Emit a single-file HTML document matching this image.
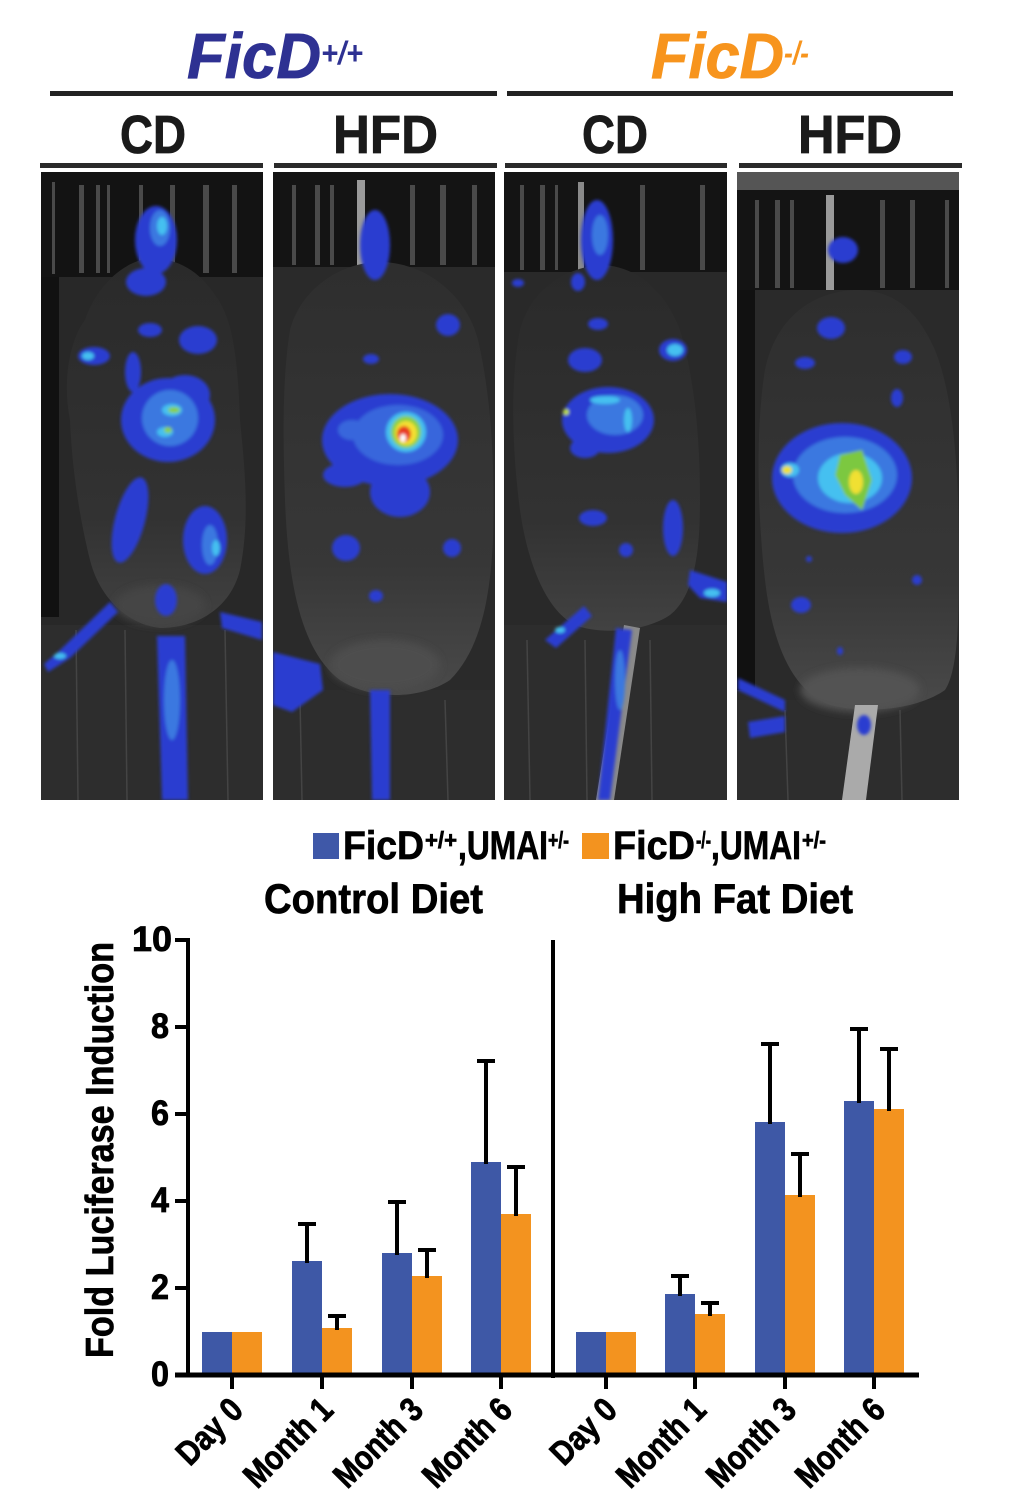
<!DOCTYPE html>
<html><head><meta charset="utf-8"><style>
html,body{margin:0;padding:0;background:#fff;}
svg{display:block;font-family:"Liberation Sans",Arial,Helvetica,sans-serif;}
text{font-family:"Liberation Sans",Arial,Helvetica,sans-serif;font-weight:bold;}
</style></head><body>
<svg width="1024" height="1509" viewBox="0 0 1024 1509" xmlns="http://www.w3.org/2000/svg" font-family="Liberation Sans, Arial, Helvetica, sans-serif" font-weight="bold">
<defs>
<filter id="bl" x="-20%" y="-20%" width="140%" height="140%"><feGaussianBlur stdDeviation="1.6"/></filter>
<filter id="bl2" x="-20%" y="-20%" width="140%" height="140%"><feGaussianBlur stdDeviation="4"/></filter>
<clipPath id="c1"><rect x="41" y="172" width="222" height="628"/></clipPath>
<clipPath id="c2"><rect x="273" y="172" width="222" height="628"/></clipPath>
<clipPath id="c3"><rect x="504" y="172" width="223" height="628"/></clipPath>
<clipPath id="c4"><rect x="737" y="172" width="222" height="628"/></clipPath>
<linearGradient id="bodyg" x1="0" y1="0" x2="0" y2="1">
<stop offset="0" stop-color="#2a2a2a"/><stop offset="0.7" stop-color="#323232"/><stop offset="1" stop-color="#424242"/></linearGradient>
<linearGradient id="bodyg2" x1="0" y1="0" x2="0" y2="1">
<stop offset="0" stop-color="#2e2e2e"/><stop offset="0.7" stop-color="#373737"/><stop offset="1" stop-color="#4a4a4a"/></linearGradient>
</defs>
<rect width="1024" height="1509" fill="#fff"/>

<!-- Top titles -->
<text x="187" y="78" font-size="64" font-style="italic" fill="#2e3192" stroke="#2e3192" stroke-width="0.8" textLength="134" lengthAdjust="spacingAndGlyphs">FicD</text>
<text x="321" y="64" font-size="32" font-style="italic" fill="#2e3192" textLength="42" lengthAdjust="spacingAndGlyphs">+/+</text>
<text x="651" y="78" font-size="64" font-style="italic" fill="#f7941d" stroke="#f7941d" stroke-width="0.8" textLength="133" lengthAdjust="spacingAndGlyphs">FicD</text>
<text x="784" y="64" font-size="32" font-style="italic" fill="#f7941d" textLength="25" lengthAdjust="spacingAndGlyphs">-/-</text>
<rect x="50" y="91" width="447" height="5" fill="#222"/>
<rect x="507" y="91" width="446" height="5" fill="#222"/>
<g fill="#1a1a1a" stroke="#1a1a1a" stroke-width="0.8" font-size="54">
<text x="120" y="153" textLength="66" lengthAdjust="spacingAndGlyphs">CD</text>
<text x="333" y="153" textLength="105" lengthAdjust="spacingAndGlyphs">HFD</text>
<text x="582" y="153" textLength="66" lengthAdjust="spacingAndGlyphs">CD</text>
<text x="798" y="153" textLength="104" lengthAdjust="spacingAndGlyphs">HFD</text>
</g>
<rect x="40" y="163" width="223" height="5" fill="#2a2a2a"/>
<rect x="274" y="163" width="223" height="5" fill="#2a2a2a"/>
<rect x="505" y="163" width="222" height="5" fill="#2a2a2a"/>
<rect x="739" y="163" width="223" height="5" fill="#2a2a2a"/>

<!-- Panel 1 -->
<g clip-path="url(#c1)">
<rect x="41" y="172" width="222" height="628" fill="#282828"/>
<rect x="41" y="172" width="222" height="105" fill="#131313"/>
<g fill="#4a4a4a">
<rect x="52" y="182" width="3" height="92"/><rect x="79" y="185" width="5" height="88"/><rect x="96" y="185" width="4" height="88"/><rect x="107" y="185" width="3" height="88"/><rect x="139" y="185" width="4" height="88"/><rect x="170" y="185" width="5" height="88"/><rect x="203" y="185" width="6" height="88"/><rect x="232" y="185" width="5" height="88"/>
</g>
<rect x="41" y="277" width="18" height="340" fill="#111"/>
<rect x="41" y="625" width="222" height="175" fill="#2d2d2d"/>
<g stroke="#444" stroke-width="1.5"><line x1="76" y1="630" x2="78" y2="800"/><line x1="125" y1="630" x2="127" y2="800"/><line x1="225" y1="630" x2="228" y2="800"/></g>
<path d="M150,258 C120,262 95,290 85,320 C70,340 62,380 70,420 C72,470 80,520 90,560 C100,600 130,625 160,628 C195,628 230,610 240,570 C250,520 245,470 240,420 C238,370 235,320 215,295 C200,272 178,258 150,258 Z" fill="url(#bodyg)"/>
<ellipse cx="160" cy="605" rx="45" ry="20" fill="#444" filter="url(#bl2)"/>
<g filter="url(#bl)">
<g fill="#2b3ed0">
<ellipse cx="156" cy="240" rx="21" ry="34"/><ellipse cx="146" cy="282" rx="20" ry="14"/>
<ellipse cx="150" cy="330" rx="12" ry="7"/><ellipse cx="94" cy="356" rx="16" ry="9"/><ellipse cx="198" cy="340" rx="19" ry="14"/>
<ellipse cx="133" cy="372" rx="8" ry="20"/>
<ellipse cx="168" cy="420" rx="47" ry="42"/><ellipse cx="185" cy="395" rx="25" ry="20"/>
<ellipse cx="130" cy="520" rx="15" ry="44" transform="rotate(15 130 520)"/><ellipse cx="205" cy="540" rx="22" ry="34"/>
<ellipse cx="166" cy="600" rx="11" ry="16"/>
<path d="M44,664 L58,652 L110,602 L118,612 L70,658 L48,672 Z"/>
<path d="M220,612 L262,622 L262,640 L222,628 Z"/>
<path d="M157,636 L185,636 L188,800 L162,800 Z"/>
</g>
<g fill="#3a78e0"><ellipse cx="160" cy="228" rx="10" ry="18"/><ellipse cx="170" cy="418" rx="28" ry="28"/><ellipse cx="210" cy="545" rx="8" ry="20"/><ellipse cx="172" cy="700" rx="8" ry="40"/></g>
<g fill="#45c0f0"><ellipse cx="162" cy="226" rx="5" ry="9"/><ellipse cx="88" cy="356" rx="6" ry="4"/><ellipse cx="172" cy="410" rx="10" ry="6"/><ellipse cx="165" cy="432" rx="8" ry="5"/><ellipse cx="216" cy="548" rx="4" ry="8"/><ellipse cx="60" cy="656" rx="6" ry="3"/></g>
<g fill="#8ad040"><ellipse cx="174" cy="410" rx="6" ry="3"/><ellipse cx="168" cy="430" rx="4" ry="3"/></g>
</g>
</g>

<!-- Panel 2 -->
<g clip-path="url(#c2)">
<rect x="273" y="172" width="222" height="628" fill="#2a2a2a"/>
<rect x="273" y="172" width="222" height="95" fill="#141414"/>
<g fill="#4a4a4a">
<rect x="292" y="185" width="4" height="80"/><rect x="315" y="185" width="5" height="80"/><rect x="330" y="185" width="4" height="80"/><rect x="410" y="185" width="5" height="80"/><rect x="440" y="185" width="6" height="80"/><rect x="472" y="185" width="5" height="80"/>
</g>
<rect x="357" y="180" width="8" height="85" fill="#9a9a9a"/>
<rect x="273" y="690" width="222" height="110" fill="#2d2d2d"/>
<g stroke="#444" stroke-width="1.5"><line x1="300" y1="700" x2="302" y2="800"/><line x1="445" y1="700" x2="448" y2="800"/></g>
<path d="M380,262 C340,262 300,290 290,330 C282,380 283,440 285,500 C288,580 300,650 340,680 C370,700 420,700 450,680 C480,650 490,600 493,540 C495,470 492,400 478,340 C465,290 420,262 380,262 Z" fill="url(#bodyg2)"/>
<ellipse cx="385" cy="665" rx="55" ry="25" fill="#4e4e4e" filter="url(#bl2)"/>
<g filter="url(#bl)">
<g fill="#2b3ed0">
<ellipse cx="375" cy="245" rx="15" ry="35"/>
<ellipse cx="448" cy="325" rx="12" ry="11"/><ellipse cx="371" cy="359" rx="8" ry="5"/>
<ellipse cx="390" cy="440" rx="68" ry="46"/><ellipse cx="400" cy="492" rx="30" ry="25"/><ellipse cx="345" cy="475" rx="22" ry="12"/>
<ellipse cx="346" cy="548" rx="14" ry="13"/><ellipse cx="452" cy="548" rx="9" ry="9"/><ellipse cx="376" cy="596" rx="7" ry="6"/>
<path d="M370,690 L390,690 L390,800 L372,800 Z"/>
<path d="M273,652 L320,664 L323,690 L292,712 L273,705 Z"/>
</g>
<g fill="#3766dc"><ellipse cx="398" cy="435" rx="45" ry="30"/><ellipse cx="352" cy="430" rx="14" ry="10"/></g>
<g fill="#45c0f0"><ellipse cx="406" cy="432" rx="20" ry="20"/></g>
<g fill="#8ad040"><ellipse cx="406" cy="432" rx="15" ry="16"/></g>
<g fill="#f5e030"><ellipse cx="406" cy="433" rx="11" ry="12"/></g>
<g fill="#e83a20"><ellipse cx="404" cy="434" rx="7" ry="8"/></g>
<g fill="#ffffff"><ellipse cx="403" cy="438" rx="3" ry="4"/></g>
</g>
</g>

<!-- Panel 3 -->
<g clip-path="url(#c3)">
<rect x="504" y="172" width="223" height="628" fill="#292929"/>
<rect x="504" y="172" width="223" height="100" fill="#141414"/>
<g fill="#4a4a4a">
<rect x="520" y="185" width="4" height="85"/><rect x="540" y="185" width="5" height="85"/><rect x="555" y="185" width="3" height="85"/><rect x="640" y="185" width="5" height="85"/><rect x="700" y="185" width="5" height="85"/>
</g>
<rect x="578" y="182" width="6" height="88" fill="#8a8a8a"/>
<rect x="504" y="625" width="223" height="175" fill="#2d2d2d"/>
<g stroke="#444" stroke-width="1.5"><line x1="527" y1="640" x2="530" y2="800"/><line x1="585" y1="640" x2="587" y2="800"/><line x1="650" y1="640" x2="652" y2="800"/></g>
<path d="M600,265 C565,268 530,290 520,330 C510,380 512,450 520,510 C527,560 545,610 575,625 C600,635 645,632 670,615 C695,595 700,550 700,500 C700,440 695,380 680,330 C665,290 635,265 600,265 Z" fill="url(#bodyg)"/>
<path d="M624,625 L640,628 L614,800 L596,800 Z" fill="#8a8a8a"/>
<g filter="url(#bl)">
<g fill="#2b3ed0">
<ellipse cx="597" cy="240" rx="16" ry="40"/><ellipse cx="578" cy="282" rx="7" ry="9"/>
<ellipse cx="598" cy="324" rx="10" ry="6"/><ellipse cx="585" cy="360" rx="17" ry="12"/><ellipse cx="673" cy="350" rx="14" ry="11"/>
<ellipse cx="608" cy="420" rx="46" ry="33"/><ellipse cx="585" cy="448" rx="15" ry="10"/>
<ellipse cx="593" cy="518" rx="14" ry="8"/><ellipse cx="626" cy="550" rx="7" ry="7"/><ellipse cx="673" cy="528" rx="10" ry="28"/><ellipse cx="518" cy="283" rx="6" ry="4"/>
<path d="M690,570 L727,582 L727,602 L700,598 L688,585 Z"/>
<path d="M545,640 L584,606 L592,616 L556,648 Z"/>
<path d="M616,628 L632,630 L610,800 L598,800 Z"/>
</g>
<g fill="#3a78e0"><ellipse cx="600" cy="235" rx="8" ry="20"/><ellipse cx="615" cy="415" rx="28" ry="20"/><ellipse cx="620" cy="680" rx="5" ry="30"/></g>
<g fill="#45c0f0"><ellipse cx="605" cy="400" rx="15" ry="4"/><ellipse cx="628" cy="420" rx="4" ry="12"/><ellipse cx="675" cy="350" rx="8" ry="6"/><ellipse cx="712" cy="593" rx="8" ry="4"/><ellipse cx="560" cy="630" rx="5" ry="3"/></g>
<ellipse cx="566" cy="412" rx="3" ry="3" fill="#c0e030"/>
</g>
</g>

<!-- Panel 4 -->
<g clip-path="url(#c4)">
<rect x="737" y="172" width="222" height="628" fill="#2a2a2a"/>
<rect x="737" y="172" width="222" height="18" fill="#555"/>
<rect x="737" y="190" width="222" height="100" fill="#141414"/>
<g fill="#4a4a4a">
<rect x="755" y="200" width="4" height="88"/><rect x="775" y="200" width="5" height="88"/><rect x="790" y="200" width="4" height="88"/><rect x="880" y="200" width="5" height="88"/><rect x="910" y="200" width="5" height="88"/><rect x="945" y="200" width="4" height="88"/>
</g>
<rect x="826" y="195" width="8" height="95" fill="#9a9a9a"/>
<rect x="737" y="290" width="18" height="400" fill="#111"/>
<rect x="737" y="700" width="222" height="100" fill="#2d2d2d"/>
<g stroke="#444" stroke-width="1.5"><line x1="785" y1="710" x2="788" y2="800"/><line x1="900" y1="710" x2="902" y2="800"/></g>
<path d="M855,290 C810,292 775,320 765,370 C755,430 758,520 765,580 C772,640 790,690 830,705 C870,715 920,708 945,690 C958,670 959,620 959,560 C959,480 955,400 935,350 C915,305 890,290 855,290 Z" fill="url(#bodyg2)"/>
<ellipse cx="860" cy="690" rx="60" ry="22" fill="#525252" filter="url(#bl2)"/>
<path d="M855,705 L878,705 L866,800 L842,800 Z" fill="#aaaaaa"/>
<g filter="url(#bl)">
<g fill="#2b3ed0">
<ellipse cx="843" cy="250" rx="15" ry="13"/>
<ellipse cx="831" cy="328" rx="14" ry="11"/><ellipse cx="805" cy="363" rx="10" ry="6"/><ellipse cx="903" cy="357" rx="9" ry="7"/><ellipse cx="897" cy="398" rx="6" ry="9"/>
<ellipse cx="842" cy="478" rx="70" ry="55"/>
<ellipse cx="801" cy="605" rx="10" ry="8"/><ellipse cx="917" cy="580" rx="5" ry="5"/><ellipse cx="840" cy="651" rx="3" ry="4"/><ellipse cx="809" cy="559" rx="3" ry="3"/>
<path d="M738,678 L785,700 L785,712 L738,690 Z"/>
<path d="M748,722 L785,716 L785,732 L750,738 Z"/>
<ellipse cx="864" cy="725" rx="7" ry="10"/>
</g>
<g fill="#3a78e0"><ellipse cx="845" cy="475" rx="52" ry="38"/></g>
<g fill="#45c0f0"><ellipse cx="850" cy="478" rx="32" ry="25"/><ellipse cx="790" cy="470" rx="9" ry="7"/></g>
<g fill="#7cc840"><path d="M840,455 L862,450 L872,480 L862,510 L845,495 L835,475 Z"/></g>
<g fill="#f0e030"><ellipse cx="856" cy="482" rx="7" ry="12"/><ellipse cx="787" cy="470" rx="5" ry="4"/></g>
</g>
</g>

<!-- Legend -->
<rect x="313" y="833" width="26" height="26" fill="#3f58a8"/>
<g fill="#000" stroke="#000" stroke-width="0.7">
<text x="343" y="859" font-size="40" textLength="81" lengthAdjust="spacingAndGlyphs">FicD</text>
<text x="425" y="848" font-size="23" textLength="32" lengthAdjust="spacingAndGlyphs">+/+</text>
<text x="458" y="859" font-size="40" textLength="90" lengthAdjust="spacingAndGlyphs">,UMAI</text>
<text x="548" y="848" font-size="23" textLength="21" lengthAdjust="spacingAndGlyphs">+/-</text>
<text x="613" y="859" font-size="40" textLength="82" lengthAdjust="spacingAndGlyphs">FicD</text>
<text x="696" y="848" font-size="23" textLength="15" lengthAdjust="spacingAndGlyphs">-/-</text>
<text x="711" y="859" font-size="40" textLength="90" lengthAdjust="spacingAndGlyphs">,UMAI</text>
<text x="802" y="848" font-size="23" textLength="24" lengthAdjust="spacingAndGlyphs">+/-</text>
</g>
<rect x="582" y="833" width="27" height="26" fill="#f3931f"/>

<!-- Chart titles -->
<g fill="#000" stroke="#000" stroke-width="0.7">
<text x="264" y="913" font-size="42" textLength="219" lengthAdjust="spacingAndGlyphs">Control Diet</text>
<text x="617" y="913" font-size="42" textLength="236" lengthAdjust="spacingAndGlyphs">High Fat Diet</text>
</g>

<!-- Y axis title -->
<text transform="translate(113,1150) rotate(-90)" x="0" y="0" text-anchor="middle" font-size="39" fill="#000" stroke="#000" stroke-width="0.7" textLength="416" lengthAdjust="spacingAndGlyphs">Fold Luciferase Induction</text>

<!-- Y ticks labels -->
<g font-size="35" fill="#000" stroke="#000" stroke-width="0.8">
<text x="132" y="951" textLength="40" lengthAdjust="spacingAndGlyphs">10</text>
<text x="151" y="1038" textLength="18" lengthAdjust="spacingAndGlyphs">8</text>
<text x="151" y="1125" textLength="18" lengthAdjust="spacingAndGlyphs">6</text>
<text x="151" y="1212" textLength="18" lengthAdjust="spacingAndGlyphs">4</text>
<text x="151" y="1299" textLength="18" lengthAdjust="spacingAndGlyphs">2</text>
<text x="151" y="1386" textLength="18" lengthAdjust="spacingAndGlyphs">0</text>
</g>

<!-- Bars -->
<g fill="#3e58a6">
<rect x="202" y="1332" width="30" height="43"/>
<rect x="292" y="1261" width="30" height="114"/>
<rect x="382" y="1253" width="30" height="122"/>
<rect x="471" y="1162" width="30" height="213"/>
<rect x="576" y="1332" width="30" height="43"/>
<rect x="665" y="1294" width="30" height="81"/>
<rect x="755" y="1122" width="30" height="253"/>
<rect x="844" y="1101" width="30" height="274"/>
</g>
<g fill="#f3931f">
<rect x="232" y="1332" width="30" height="43"/>
<rect x="322" y="1328" width="30" height="47"/>
<rect x="412" y="1276" width="30" height="99"/>
<rect x="501" y="1214" width="30" height="161"/>
<rect x="606" y="1332" width="30" height="43"/>
<rect x="695" y="1314" width="30" height="61"/>
<rect x="785" y="1195" width="30" height="180"/>
<rect x="874" y="1109" width="30" height="266"/>
</g>

<!-- Error bars -->
<g stroke="#000" stroke-width="4" fill="none">
<path d="M307,1263 V1224 M298,1224 H316"/>
<path d="M337,1330 V1316 M328,1316 H346"/>
<path d="M397,1255 V1202 M388,1202 H406"/>
<path d="M427,1278 V1250 M418,1250 H436"/>
<path d="M486,1164 V1061 M477,1061 H495"/>
<path d="M516,1216 V1167 M507,1167 H525"/>
<path d="M680,1296 V1276 M671,1276 H689"/>
<path d="M710,1316 V1303 M701,1303 H719"/>
<path d="M770,1124 V1044 M761,1044 H779"/>
<path d="M800,1197 V1154 M791,1154 H809"/>
<path d="M859,1103 V1029 M850,1029 H868"/>
<path d="M889,1111 V1049 M880,1049 H898"/>
</g>

<!-- Axes -->
<g stroke="#000" fill="none">
<line x1="188" y1="938" x2="188" y2="1377" stroke-width="4"/>
<line x1="175" y1="1375" x2="919" y2="1375" stroke-width="5"/>
<line x1="553" y1="940" x2="553" y2="1378" stroke-width="4"/>
<g stroke-width="4">
<line x1="175" y1="940" x2="188" y2="940"/>
<line x1="175" y1="1027" x2="188" y2="1027"/>
<line x1="175" y1="1114" x2="188" y2="1114"/>
<line x1="175" y1="1201" x2="188" y2="1201"/>
<line x1="175" y1="1288" x2="188" y2="1288"/>
<line x1="232" y1="1375" x2="232" y2="1389"/>
<line x1="322" y1="1375" x2="322" y2="1389"/>
<line x1="412" y1="1375" x2="412" y2="1389"/>
<line x1="501" y1="1375" x2="501" y2="1389"/>
<line x1="606" y1="1375" x2="606" y2="1389"/>
<line x1="695" y1="1375" x2="695" y2="1389"/>
<line x1="785" y1="1375" x2="785" y2="1389"/>
<line x1="874" y1="1375" x2="874" y2="1389"/>
</g>
</g>

<!-- X labels -->
<g font-size="34" fill="#000" stroke="#000" stroke-width="0.8" text-anchor="end">
<text transform="translate(245,1412) rotate(-45)" textLength="78" lengthAdjust="spacingAndGlyphs">Day 0</text>
<text transform="translate(335,1412) rotate(-45)" textLength="110" lengthAdjust="spacingAndGlyphs">Month 1</text>
<text transform="translate(425,1412) rotate(-45)" textLength="110" lengthAdjust="spacingAndGlyphs">Month 3</text>
<text transform="translate(514,1412) rotate(-45)" textLength="110" lengthAdjust="spacingAndGlyphs">Month 6</text>
<text transform="translate(619,1412) rotate(-45)" textLength="78" lengthAdjust="spacingAndGlyphs">Day 0</text>
<text transform="translate(708,1412) rotate(-45)" textLength="110" lengthAdjust="spacingAndGlyphs">Month 1</text>
<text transform="translate(798,1412) rotate(-45)" textLength="110" lengthAdjust="spacingAndGlyphs">Month 3</text>
<text transform="translate(887,1412) rotate(-45)" textLength="110" lengthAdjust="spacingAndGlyphs">Month 6</text>
</g>
</svg>
</body></html>
